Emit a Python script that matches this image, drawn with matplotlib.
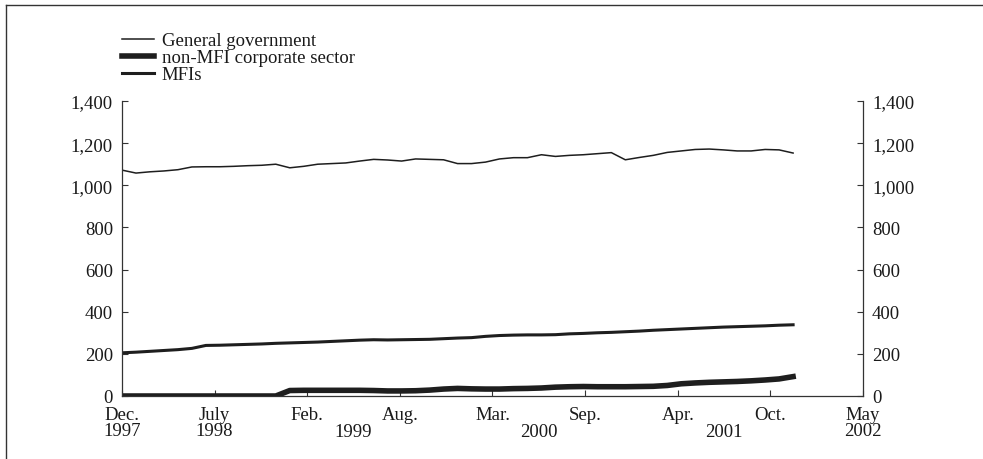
import matplotlib
matplotlib.use("Agg")
import matplotlib.pyplot as plt
from matplotlib.lines import Line2D
from matplotlib.ticker import FuncFormatter

plt.rcParams['font.family'] = ['Liberation Serif', 'DejaVu Serif']

# Monthly data, Dec 1997 (index 0) to Dec 2001 (index 48)
months = list(range(49))
general_government = [1072, 1058, 1064, 1068, 1074, 1087, 1088, 1088, 1090, 1093,
                      1095, 1100, 1083, 1090, 1100, 1103, 1106, 1115, 1123, 1120,
                      1115, 1125, 1123, 1121, 1103, 1103, 1110, 1125, 1131, 1131,
                      1145, 1137, 1142, 1145, 1150, 1155, 1121, 1132, 1142, 1156,
                      1163, 1170, 1172, 1168, 1163, 1163, 1170, 1168, 1153]
non_mfi_corporate = [0, 0, 0, 0, 0, 0, 0, 0, 0, 0,
                     0, 0, 26, 27, 27, 27, 27, 27, 26, 24,
                     24, 25, 28, 33, 36, 34, 33, 33, 35, 36,
                     38, 42, 44, 45, 44, 44, 44, 45, 46, 50,
                     58, 62, 65, 67, 69, 72, 76, 81, 92]
mfis = [205, 208, 212, 216, 220, 226, 240, 241, 243, 245,
        247, 250, 252, 254, 256, 259, 262, 265, 267, 266,
        267, 268, 269, 272, 275, 277, 283, 287, 289, 290,
        290, 291, 295, 297, 300, 302, 305, 308, 312, 315,
        318, 321, 324, 327, 329, 331, 333, 336, 338]

series_labels = ["General government", "non-MFI corporate sector", "MFIs"]
tick_labels = ["Dec.\n1997", "July\n1998", "Feb.", "Aug.", "Mar.", "Sep.",
               "Apr.", "Oct.", "May\n2002"]
year_labels = ["1999", "2000", "2001"]
y_ticks = [0, 200, 400, 600, 800, 1000, 1200, 1400]

FS = 13.5
XPAD = 7.0
W, H = 983, 460
fig = plt.figure(figsize=(W / 100, H / 100), dpi=100)
ax = fig.add_axes([122 / W, 1 - 397 / H, (863 - 122) / W, (397 - 102) / H])

col = '#1e1e1e'
l1, = ax.plot(months, general_government, color=col, lw=1.1, solid_joinstyle='round')
l2, = ax.plot(months, non_mfi_corporate, color=col, lw=4.0, solid_joinstyle='round')
l3, = ax.plot(months, mfis, color=col, lw=2.2, solid_joinstyle='round')

x_max = 53
ax.set_xlim(0, x_max)
ax.set_ylim(0, 1400)
n = len(tick_labels)
xt = [i * x_max / (n - 1) for i in range(n)]
ax.set_xticks(xt)
ax.set_xticklabels(tick_labels, linespacing=0.97)
ax.set_yticks(y_ticks)
ax.yaxis.set_major_formatter(FuncFormatter(lambda v, p: f"{int(v):,}"))

ax.spines['top'].set_visible(False)
for s in ['left', 'right', 'bottom']:
    ax.spines[s].set_linewidth(0.9)
    ax.spines[s].set_color('#333333')

ax.tick_params(axis='both', direction='in', length=4.5, width=0.8, color='#333333',
               labelsize=FS, labelcolor='#1a1a1a')
ax.tick_params(axis='y', right=True, labelright=True, pad=6.5)
ax.tick_params(axis='x', pad=XPAD)

# years centred between the paired month ticks
for k, yl in enumerate(year_labels):
    xc = (xt[2 + 2 * k] + xt[3 + 2 * k]) / 2
    ax.annotate(yl, xy=(xc, 0), xycoords=('data', 'axes fraction'),
                xytext=(0, -XPAD - 12.8), textcoords='offset points',
                ha='center', va='top', fontsize=FS, color='#1a1a1a')

leg = ax.legend([l1, l2, l3], series_labels, loc='upper left',
                bbox_to_anchor=(122 / W, 1 - 33 / H), bbox_transform=fig.transFigure,
                frameon=False, fontsize=FS, handlelength=1.7, handletextpad=0.42,
                labelspacing=0.0, borderpad=0, borderaxespad=0)
for t in leg.get_texts():
    t.set_color('#1a1a1a')

# outer frame: top and left edges
fig.add_artist(Line2D([6 / W, 1], [1 - 6 / H, 1 - 6 / H], transform=fig.transFigure,
                      color='#333333', lw=1.0))
fig.add_artist(Line2D([6 / W, 6 / W], [0, 1 - 6 / H], transform=fig.transFigure,
                      color='#333333', lw=1.0))

fig.savefig("out.png", dpi=100)
